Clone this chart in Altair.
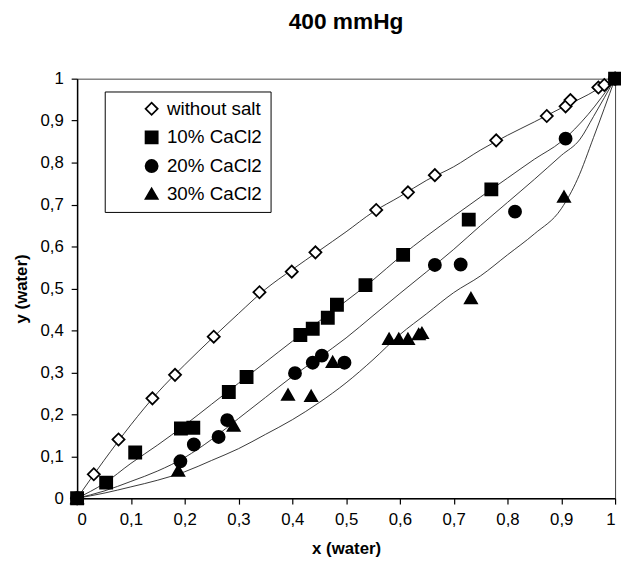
import altair as alt
import pandas as pd

series_names = ["without salt", "10% CaCl2", "20% CaCl2", "30% CaCl2"]

# measured points
ws_x = [0.0, 0.031, 0.077, 0.140, 0.182, 0.254, 0.339, 0.399, 0.443, 0.556, 0.615, 0.665, 0.779, 0.873, 0.908, 0.917, 0.969, 0.980, 1.0]
ws_y = [0.0, 0.057, 0.140, 0.238, 0.294, 0.385, 0.491, 0.540, 0.586, 0.687, 0.729, 0.770, 0.853, 0.911, 0.934, 0.949, 0.979, 0.985, 1.0]

c10_x = [0.0, 0.054, 0.108, 0.193, 0.216, 0.282, 0.315, 0.415, 0.438, 0.466, 0.483, 0.536, 0.606, 0.728, 0.770, 1.0]
c10_y = [0.0, 0.037, 0.109, 0.166, 0.168, 0.253, 0.289, 0.389, 0.404, 0.430, 0.461, 0.508, 0.580, 0.664, 0.736, 1.0]

c20_x = [0.0, 0.192, 0.217, 0.263, 0.279, 0.405, 0.438, 0.455, 0.497, 0.665, 0.713, 0.814, 0.908, 1.0]
c20_y = [0.0, 0.088, 0.128, 0.146, 0.186, 0.298, 0.323, 0.340, 0.323, 0.556, 0.557, 0.683, 0.857, 1.0]

c30_x = [0.0, 0.188, 0.291, 0.392, 0.435, 0.475, 0.580, 0.598, 0.615, 0.635, 0.641, 0.732, 0.905, 1.0]
c30_y = [0.0, 0.066, 0.173, 0.247, 0.244, 0.325, 0.380, 0.380, 0.380, 0.391, 0.394, 0.477, 0.719, 1.0]

# model curves
ws_cx = [0.0, 0.05, 0.1, 0.15, 0.2, 0.25, 0.3, 0.35, 0.4, 0.45, 0.5, 0.55, 0.6, 0.65, 0.7, 0.75, 0.8, 0.85, 0.9, 0.95, 1.0]
ws_cy = [0.0, 0.09, 0.175, 0.252, 0.318, 0.38, 0.44, 0.498, 0.545, 0.59, 0.635, 0.682, 0.719, 0.758, 0.79, 0.83, 0.865, 0.897, 0.93, 0.962, 1.0]

c10_cx = [0.0, 0.05, 0.1, 0.15, 0.2, 0.25, 0.3, 0.35, 0.4, 0.45, 0.5, 0.55, 0.6, 0.65, 0.7, 0.75, 0.8, 0.85, 0.9, 0.95, 1.0]
c10_cy = [0.0, 0.035, 0.083, 0.127, 0.174, 0.224, 0.274, 0.324, 0.374, 0.422, 0.47, 0.52, 0.575, 0.625, 0.672, 0.718, 0.763, 0.808, 0.85, 0.915, 1.0]

c20_cx = [0.0, 0.05, 0.1, 0.15, 0.2, 0.25, 0.3, 0.35, 0.4, 0.45, 0.5, 0.55, 0.6, 0.65, 0.7, 0.75, 0.8, 0.85, 0.9, 0.935, 0.96, 1.0]
c20_cy = [0.0, 0.017, 0.04, 0.065, 0.097, 0.14, 0.19, 0.24, 0.29, 0.335, 0.382, 0.435, 0.488, 0.54, 0.593, 0.65, 0.705, 0.76, 0.817, 0.856, 0.91, 1.0]

c30_cx = [0.0, 0.05, 0.1, 0.15, 0.2, 0.25, 0.3, 0.35, 0.4, 0.45, 0.5, 0.55, 0.6, 0.65, 0.7, 0.75, 0.8, 0.85, 0.9, 0.93, 0.96, 1.0]
c30_cy = [0.0, 0.012, 0.027, 0.043, 0.063, 0.09, 0.118, 0.152, 0.187, 0.228, 0.275, 0.33, 0.39, 0.44, 0.49, 0.53, 0.58, 0.63, 0.69, 0.76, 0.86, 1.0]

tick_values = [0, 0.1, 0.2, 0.3, 0.4, 0.5, 0.6, 0.7, 0.8, 0.9, 1]

shape_range = ["diamond", "square", "circle", "triangle-up"]
fill_range = ["white", "black", "black", "black"]
stroke_range = ["black", "black", "black", "black"]
size_range = [150, 150, 150, 210]

pts = []
for name, xs, ys in zip(series_names, [ws_x, c10_x, c20_x, c30_x], [ws_y, c10_y, c20_y, c30_y]):
    for a, b in zip(xs, ys):
        pts.append({"x": a, "y": b, "series": name})
df_pts = pd.DataFrame(pts)

crv = []
for name, xs, ys in zip(series_names, [ws_cx, c10_cx, c20_cx, c30_cx], [ws_cy, c10_cy, c20_cy, c30_cy]):
    for a, b in zip(xs, ys):
        crv.append({"x": a, "y": b, "series": name})
df_crv = pd.DataFrame(crv)

label_expr = ("abs(datum.value) < 1e-9 ? '0' : abs(datum.value - 1) < 1e-9 ? '1' : "
              "replace(format(datum.value, '.1f'), '.', ',')")

FONT = "Liberation Sans"

xscale = alt.Scale(domain=[0, 1], nice=False, zero=False)
yscale = alt.Scale(domain=[0, 1], nice=False, zero=False)

xenc = alt.X("x:Q", scale=xscale,
             axis=alt.Axis(values=tick_values, labelExpr=label_expr, title="x (water)",
                           titlePadding=13))
yenc = alt.Y("y:Q", scale=yscale,
             axis=alt.Axis(values=tick_values, labelExpr=label_expr, title="y (water)",
                           titlePadding=10))

legend = alt.Legend(title=None, orient="none", legendX=28, legendY=13, padding=8,
                    fillColor="white", strokeColor="black", labelFontSize=19,
                    labelFont=FONT, symbolOffset=30, rowPadding=8, labelOffset=6,
                    symbolStrokeWidth=1.8)

lines = alt.Chart(df_crv).mark_line(color="#222222", strokeWidth=0.9, interpolate="monotone").encode(
    x=xenc, y=yenc, detail="series:N"
)

points = alt.Chart(df_pts).mark_point(filled=True, strokeWidth=1.8, opacity=1).encode(
    x=xenc, y=yenc,
    shape=alt.Shape("series:N", scale=alt.Scale(domain=series_names, range=shape_range), legend=legend),
    fill=alt.Fill("series:N", scale=alt.Scale(domain=series_names, range=fill_range), legend=legend),
    stroke=alt.Stroke("series:N", scale=alt.Scale(domain=series_names, range=stroke_range), legend=legend),
    size=alt.Size("series:N", scale=alt.Scale(domain=series_names, range=size_range), legend=legend),
)

chart = alt.layer(lines, points).properties(
    width=545, height=425,
    title=alt.TitleParams("400 mmHg", fontSize=23, font=FONT, fontWeight="bold",
                          anchor="middle", offset=36, color="black"),
    autosize=alt.AutoSizeParams(type="none"),
    padding={"left": 70, "top": 68, "right": 6, "bottom": 58},
).configure_view(
    stroke="#444444", strokeWidth=1
).configure_axis(
    grid=False, domainColor="black", domainWidth=1.5, tickColor="black", tickSize=6,
    tickWidth=1.2, labelFontSize=17, labelFont=FONT, labelColor="black", labelPadding=8,
    titleFont=FONT, titleFontSize=17, titleFontWeight="bold", titleColor="black"
)

chart.save("out.html", embed_options={"renderer": "svg", "actions": False})
